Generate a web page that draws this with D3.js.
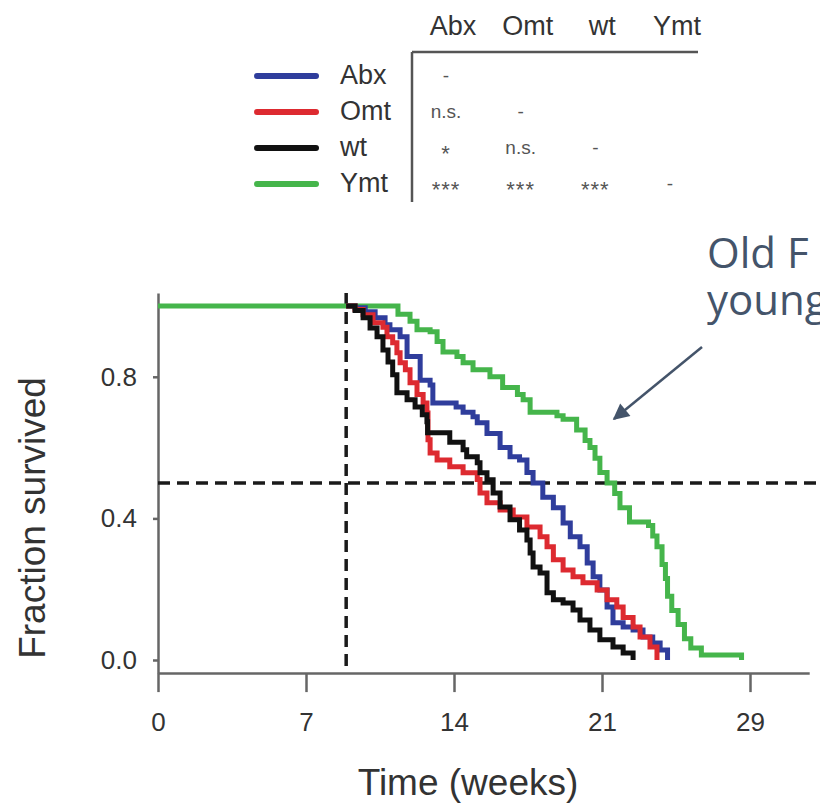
<!DOCTYPE html>
<html>
<head>
<meta charset="utf-8">
<script src="https://cdnjs.cloudflare.com/ajax/libs/d3/7.8.5/d3.min.js"></script>
<style>
  body { margin: 0; background: #fff; }
  svg { display: block; font-family: "Liberation Sans", Arial, Helvetica, sans-serif; }
</style>
</head>
<body>
<div id="graph"></div>
<script>
// Groups, in legend / table order
var groups = ["Abx", "Omt", "wt", "Ymt"];
var groupColors = ["#2f3d9c", "#dd2a30", "#111111", "#45b54b"];

// Kaplan-Meier steps: week of each step and fraction surviving after it
var abxWeeks = [8.9, 9.32, 9.8, 10.27, 10.74, 10.97, 11.45, 11.78, 12.4, 12.87, 13.0, 14.1, 14.43, 14.9, 15.1, 15.56, 16.18, 16.65, 17.1, 17.45, 17.74, 18.2, 18.7, 19.16, 19.5, 19.96, 20.3, 20.58, 20.9, 21.24, 21.52, 22.0, 22.47, 22.94, 23.4, 23.75, 24.1];
var abxSurv = [1.0, 0.995, 0.984, 0.967, 0.947, 0.933, 0.913, 0.857, 0.79, 0.777, 0.726, 0.715, 0.70, 0.687, 0.67, 0.64, 0.60, 0.574, 0.565, 0.53, 0.50, 0.46, 0.43, 0.387, 0.348, 0.32, 0.274, 0.235, 0.198, 0.15, 0.105, 0.093, 0.085, 0.065, 0.048, 0.028, 0.0];

var omtWeeks = [8.9, 9.32, 9.7, 10.17, 10.64, 10.83, 11.1, 11.3, 11.45, 11.7, 11.92, 12.25, 12.54, 12.72, 12.77, 12.87, 13.2, 13.8, 14.43, 15.1, 15.23, 15.56, 16.18, 16.8, 17.45, 18.07, 18.4, 18.7, 19.16, 19.63, 20.1, 20.77, 21.24, 21.7, 22.0, 22.47, 22.8, 23.27, 23.6];
var omtSurv = [1.0, 0.99, 0.975, 0.953, 0.94, 0.913, 0.896, 0.868, 0.84, 0.82, 0.783, 0.75, 0.726, 0.698, 0.622, 0.585, 0.565, 0.546, 0.529, 0.51, 0.472, 0.444, 0.424, 0.404, 0.376, 0.348, 0.32, 0.283, 0.254, 0.235, 0.218, 0.198, 0.17, 0.15, 0.12, 0.093, 0.065, 0.037, 0.0];

var wtWeeks = [8.9, 9.32, 9.7, 10.03, 10.36, 10.64, 10.88, 11.1, 11.3, 11.78, 12.16, 12.5, 12.72, 12.75, 13.8, 14.43, 14.6, 15.1, 15.23, 15.56, 15.85, 16.18, 16.65, 17.1, 17.45, 17.6, 17.74, 18.07, 18.4, 18.7, 19.16, 19.63, 19.96, 20.43, 20.9, 21.52, 22.0, 22.47];
var wtSurv = [1.0, 0.987, 0.967, 0.938, 0.913, 0.876, 0.842, 0.806, 0.755, 0.735, 0.715, 0.693, 0.673, 0.642, 0.615, 0.594, 0.574, 0.557, 0.529, 0.509, 0.472, 0.432, 0.396, 0.367, 0.339, 0.302, 0.263, 0.246, 0.19, 0.17, 0.161, 0.141, 0.113, 0.085, 0.057, 0.037, 0.02, 0.0];

var ymtWeeks = [0, 11.35, 11.92, 12.25, 12.87, 13.2, 13.48, 14.14, 14.43, 14.9, 15.7, 16.3, 17.0, 17.27, 17.6, 18.87, 19.16, 19.8, 20.2, 20.43, 20.67, 20.9, 21.24, 21.6, 21.85, 22.3, 23.2, 23.4, 23.6, 23.84, 24.0, 24.1, 24.3, 24.6, 24.9, 25.2, 25.7, 27.6];
var ymtSurv = [1.0, 0.977, 0.957, 0.933, 0.927, 0.90, 0.87, 0.857, 0.84, 0.82, 0.80, 0.77, 0.75, 0.735, 0.70, 0.69, 0.68, 0.65, 0.62, 0.60, 0.57, 0.53, 0.50, 0.47, 0.43, 0.39, 0.38, 0.35, 0.32, 0.27, 0.23, 0.18, 0.14, 0.10, 0.06, 0.034, 0.014, 0.0];

// Axis ticks
var xTickWeeks = [0, 7, 14, 21, 28];
var xTickLabels = ["0", "7", "14", "21", "29"];
var yTickValues = [0, 0.4, 0.8];

// Reference lines: treatment start and median survival
var treatmentWeek = 8.9;
var medianLevel = 0.5;

// Pairwise significance table (lower triangle)
var pairTable = [
  ["-"],
  ["n.s.", "-"],
  ["*", "n.s.", "-"],
  ["***", "***", "***", "-"]
];

var annotationLines = ["Old F", "young"];

// HTML element dimensions
var width = 820;
var height = 805;

// Create the SVG element
var svg = d3.select("#graph")
  .append("svg")
  .attr("width", width)
  .attr("height", height);

// Scales
var xScale = d3.scaleLinear().domain([0, 28]).range([158, 750]);
var yScale = d3.scaleLinear().domain([0, 1]).range([660, 306]);

// R-style axes run a bit past the data range
var xAxisScale = d3.scaleLinear().domain([0, 30.8]).range([xScale(0), xScale(30.8)]);
var yAxisScale = d3.scaleLinear().domain([-0.037, 1.037]).range([yScale(-0.037), yScale(1.037)]);

var axisColor = "#666";

// x axis
var xAxis = svg.append("g")
  .attr("transform", "translate(0," + yAxisScale(-0.037) + ")")
  .call(d3.axisBottom(xAxisScale)
    .tickValues(xTickWeeks)
    .tickFormat(function(d, i) { return xTickLabels[i]; })
    .tickSize(19)
    .tickSizeOuter(0)
    .tickPadding(20));

// y axis
var yAxis = svg.append("g")
  .attr("transform", "translate(" + xScale(0) + ",0)")
  .call(d3.axisLeft(yAxisScale)
    .tickValues(yTickValues)
    .tickFormat(d3.format(".1f"))
    .tickSize(5)
    .tickSizeOuter(0)
    .tickPadding(16));

[xAxis, yAxis].forEach(function(g) {
  g.select(".domain").attr("stroke", axisColor).attr("stroke-width", 2.5);
  g.selectAll(".tick line").attr("stroke", axisColor).attr("stroke-width", 2.5);
  g.selectAll(".tick text")
    .attr("fill", "#333")
    .style("font-size", "26px")
    .style("font-family", "'Liberation Sans', Arial, sans-serif");
});

// Axis titles
svg.append("text")
  .attr("transform", "translate(45," + 518 + ") rotate(-90)")
  .attr("text-anchor", "middle")
  .attr("fill", "#333")
  .style("font-size", "37px")
  .text("Fraction survived");

svg.append("text")
  .attr("x", 468)
  .attr("y", 795)
  .attr("text-anchor", "middle")
  .attr("fill", "#333")
  .style("font-size", "37px")
  .text("Time (weeks)");

// Dashed reference lines
svg.append("line")
  .attr("x1", xScale(treatmentWeek)).attr("x2", xScale(treatmentWeek))
  .attr("y1", yAxisScale(1.037)).attr("y2", yAxisScale(-0.037))
  .attr("stroke", "#1a1a1a")
  .attr("stroke-width", 3.5)
  .attr("stroke-dasharray", "12,7");

svg.append("line")
  .attr("x1", xScale(0)).attr("x2", width)
  .attr("y1", yScale(medianLevel)).attr("y2", yScale(medianLevel))
  .attr("stroke", "#1a1a1a")
  .attr("stroke-width", 3.5)
  .attr("stroke-dasharray", "12,7");

// Survival curves
var line = d3.line()
  .curve(d3.curveStepAfter)
  .x(function(d) { return xScale(d[0]); })
  .y(function(d) { return yScale(d[1]); });

var curveWeeks = [abxWeeks, omtWeeks, wtWeeks, ymtWeeks];
var curveSurv = [abxSurv, omtSurv, wtSurv, ymtSurv];
var drawOrder = [3, 0, 1, 2];

drawOrder.forEach(function(i) {
  var pts = curveWeeks[i].map(function(w, j) { return [w, curveSurv[i][j]]; });
  svg.append("path")
    .datum(pts)
    .attr("fill", "none")
    .attr("stroke", groupColors[i])
    .attr("stroke-width", 5)
    .attr("d", line);
});

// Legend + significance table
var rowY = d3.scaleLinear().domain([0, 3]).range([76, 184]);
var colX = d3.scaleLinear().domain([0, 3]).range([446, 670]);

var table = svg.append("g");

groups.forEach(function(name, i) {
  table.append("line")
    .attr("x1", 257).attr("x2", 316)
    .attr("y1", rowY(i)).attr("y2", rowY(i))
    .attr("stroke", groupColors[i])
    .attr("stroke-width", 6)
    .attr("stroke-linecap", "round");

  table.append("text")
    .attr("x", 340)
    .attr("y", rowY(i) + 8)
    .attr("fill", "#333")
    .style("font-size", "27px")
    .text(name);

  table.append("text")
    .attr("x", colX(i) + 7)
    .attr("y", 35)
    .attr("text-anchor", "middle")
    .attr("fill", "#333")
    .style("font-size", "27px")
    .text(name);
});

pairTable.forEach(function(row, i) {
  row.forEach(function(cell, j) {
    var stars = cell.indexOf("*") >= 0;
    table.append("text")
      .attr("x", colX(j))
      .attr("y", rowY(i) + (stars ? 13 : 6))
      .attr("text-anchor", "middle")
      .attr("fill", "#555")
      .style("font-size", stars ? "22px" : "19px")
      .style("letter-spacing", stars ? "1px" : "0px")
      .text(cell);
  });
});

table.append("line")
  .attr("x1", 412).attr("x2", 698)
  .attr("y1", 52).attr("y2", 52)
  .attr("stroke", "#555").attr("stroke-width", 2.5);

table.append("line")
  .attr("x1", 412).attr("x2", 412)
  .attr("y1", 52).attr("y2", 202)
  .attr("stroke", "#555").attr("stroke-width", 2.5);

// Annotation with arrow
var noteColor = "#44546a";

svg.append("defs").append("marker")
  .attr("id", "arrow")
  .attr("viewBox", "0 0 10 10")
  .attr("refX", 9).attr("refY", 5)
  .attr("markerWidth", 7).attr("markerHeight", 6.5)
  .attr("orient", "auto")
  .append("path")
  .attr("d", "M0,0L10,5L0,10Z")
  .attr("fill", noteColor);

svg.append("line")
  .attr("x1", 702).attr("y1", 347)
  .attr("x2", 614).attr("y2", 419)
  .attr("stroke", noteColor)
  .attr("stroke-width", 2.5)
  .attr("marker-end", "url(#arrow)");

annotationLines.forEach(function(t, i) {
  svg.append("text")
    .attr("x", 707)
    .attr("y", 268 + i * 47)
    .attr("fill", noteColor)
    .style("font-family", "'Open Sans', 'Noto Sans', sans-serif")
    .style("font-size", "42px")
    .text(t);
});
</script>
</body>
</html>
